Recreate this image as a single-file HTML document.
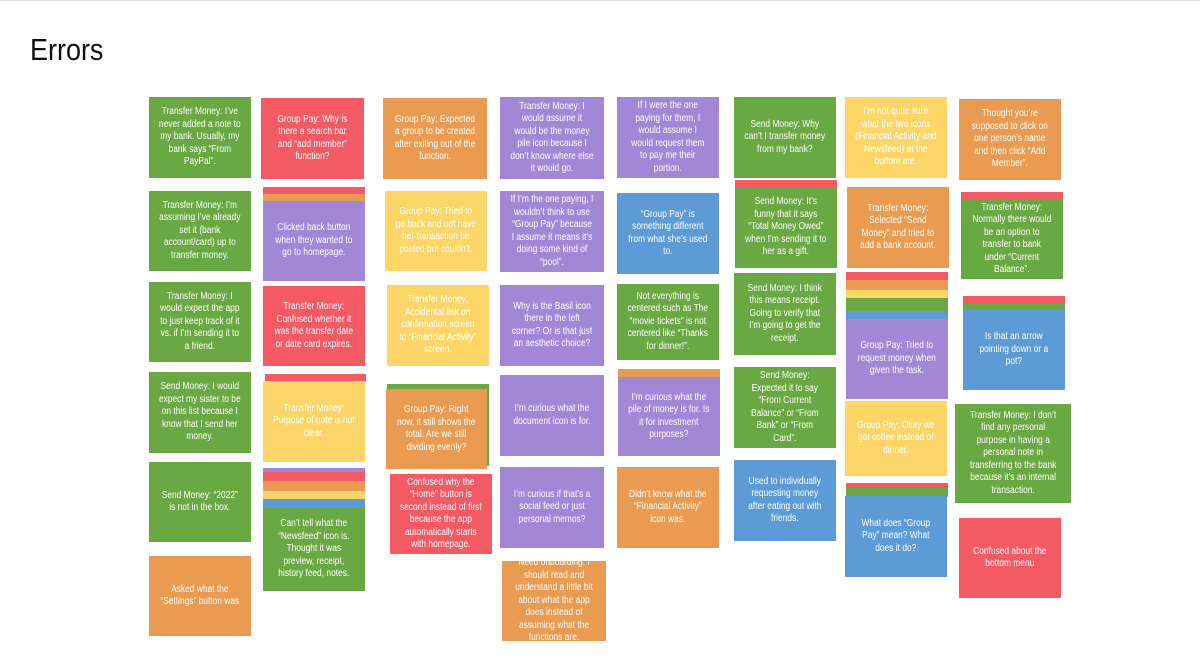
<!DOCTYPE html>
<html><head><meta charset="utf-8">
<style>
html,body{margin:0;padding:0;background:#fff;}
#page{position:relative;width:1200px;height:668px;overflow:hidden;background:#fff;border-top:1px solid #ddd;box-sizing:border-box;}
#title{position:absolute;left:30px;top:31px;font-family:"Liberation Sans",sans-serif;font-size:31px;color:#111;transform:scaleX(0.87);transform-origin:left top;}
.n{position:absolute;display:flex;align-items:center;justify-content:center;text-align:center;color:#fff;font-family:"Liberation Sans",sans-serif;box-sizing:border-box;overflow:hidden;}
.n span{display:block;font-size:10px;line-height:12.5px;transform:scaleX(0.84);flex:none;}
.s{position:absolute;}
</style></head><body>
<div id="page">
<div id="title">Errors</div>
</div>
<script>
const G='#6aa843',R='#f45a63',O='#e89b51',Y='#fcd668',P='#a287d6',B='#5c9bd6';
const strips=[
[263,186,102,8,R],[263,193,102,7,O],
[265,373,101,8,R],
[263,467,102,5,P],[263,471,102,9,R],[263,480,102,10,O],[263,490,102,8,Y],[263,498,102,9,B],
[387,383,102,82,G],
[618,368,102,8,O],
[735,179,102,7,R],
[846,271,102,8,R],[846,279,102,10,O],[846,289,102,8,Y],[846,297,102,13,G],[846,310,102,8,B],
[846,482,102,5,R],[846,487,102,9,G],
[961,191,102,8,R],
[963,295,102,7,R],[963,302,102,7,G]
];
const notes=[
[149,96,102,81,G,'Transfer Money: I\u2019ve never added a note to my bank. Usually, my bank says \u201cFrom PayPal\u201d.'],
[149,190,102,80,G,'Transfer Money: I\u2019m assuming I\u2019ve already set it (bank account/card) up to transfer money.'],
[149,281,102,80,G,'Transfer Money: I would expect the app to just keep track of it vs. if I\u2019m sending it to a friend.'],
[149,371,102,81,G,'Send Money: I would expect my sister to be on this list because I know that I send her money.'],
[149,461,102,80,G,'Send Money: \u201c2022\u201d is not in the box.'],
[149,555,102,80,O,'Asked what the \u201cSettings\u201d button was'],
[261,97,103,81,R,'Group Pay: Why is there a search bar and \u201cadd member\u201d function?'],
[263,200,102,80,P,'Clicked back button when they wanted to go to homepage.'],
[263,285,102,80,R,'Transfer Money: Confused whether it was the transfer date or date card expires.'],
[263,380,102,81,Y,'Transfer Money: Purpose of note is not clear.'],
[263,507,102,83,G,'Can\u2019t tell what the \u201cNewsfeed\u201d icon is. Thought it was preview, receipt, history feed, notes.'],
[383,97,104,81,O,'Group Pay: Expected a group to be created after exiting out of the function.'],
[385,190,102,80,Y,'Group Pay: Tried to go back and not have her transaction be posted but couldn\u2019t.'],
[387,284,102,81,Y,'Transfer Money: Accidental link on confirmation screen to \u201cFinancial Activity\u201d screen.'],
[386,388,101,80,O,'Group Pay: Right now, it still shows the total. Are we still dividing evenly?'],
[390,473,102,80,R,'Confused why the \u201cHome\u201d button is second instead of first because the app automatically starts with homepage.'],
[500,96,104,82,P,'Transfer Money: I would assume it would be the money pile icon because I don\u2019t know where else it would go.'],
[500,190,104,81,P,'If I\u2019m the one paying, I wouldn\u2019t think to use \u201cGroup Pay\u201d because I assume it means it\u2019s doing some kind of \u201cpool\u201d.'],
[500,284,104,81,P,'Why is the Basil icon there in the left corner? Or is that just an aesthetic choice?'],
[500,374,104,81,P,'I\u2019m curious what the document icon is for.'],
[500,466,104,81,P,'I\u2019m curious if that\u2019s a social feed or just personal memos?'],
[502,560,104,80,O,'Need onboarding: I should read and understand a little bit about what the app does instead of assuming what the functions are.'],
[617,96,102,81,P,'If I were the one paying for them, I would assume I would request them to pay me their portion.'],
[617,192,102,81,B,'\u201cGroup Pay\u201d is something different from what she\u2019s used to.'],
[617,283,102,76,G,'Not everything is centered such as The \u201cmovie tickets\u201d is not centered like \u201cThanks for dinner!\u201d.'],
[618,376,102,79,P,'I\u2019m curious what the pile of money is for. Is it for investment purposes?'],
[617,466,102,81,O,'Didn\u2019t know what the \u201cFinancial Activity\u201d icon was.'],
[734,96,102,81,G,'Send Money: Why can\u2019t I transfer money from my bank?'],
[735,186,102,81,G,'Send Money: It\u2019s funny that it says \u201cTotal Money Owed\u201d when I\u2019m sending it to her as a gift.'],
[734,272,102,82,G,'Send Money: I think this means receipt. Going to verify that I\u2019m going to get the receipt.'],
[734,366,102,81,G,'Send Money: Expected it to say \u201cFrom Current Balance\u201d or \u201cFrom Bank\u201d or \u201cFrom Card\u201d.'],
[734,459,102,81,B,'Used to individually requesting money after eating out with friends.'],
[845,96,102,81,Y,'I\u2019m not quite sure what the two icons (Financial Activity and Newsfeed) at the bottom are.'],
[847,186,102,81,O,'Transfer Money: Selected \u201cSend Money\u201d and tried to add a bank account.'],
[846,318,102,80,P,'Group Pay: Tried to request money when given the task.'],
[845,400,102,75,Y,'Group Pay: Okay we got coffee instead of dinner.'],
[845,495,102,81,B,'What does \u201cGroup Pay\u201d mean? What does it do?'],
[959,98,102,81,O,'Thought you\u2019re supposed to click on one person\u2019s name and then click \u201cAdd Member\u201d.'],
[961,198,102,80,G,'Transfer Money: Normally there would be an option to transfer to bank under \u201cCurrent Balance\u201d.'],
[963,309,102,80,B,'Is that an arrow pointing down or a pot?'],
[955,403,116,99,G,'Transfer Money: I don\u2019t find any personal purpose in having a personal note in transferring to the bank because it\u2019s an internal transaction.'],
[959,517,102,80,R,'Confused about the bottom menu']
];
const page=document.getElementById('page');
strips.forEach(s=>{
  const d=document.createElement('div');
  d.className='s';
  
  
  d.style.cssText=`left:${s[0]}px;top:${s[1]}px;width:${s[2]}px;height:${s[3]}px;background:${s[4]}`;
  page.appendChild(d);
});
notes.forEach(n=>{
  const d=document.createElement('div');
  d.className='n';
  
  
  d.style.cssText=`left:${n[0]}px;top:${n[1]}px;width:${n[2]}px;height:${n[3]}px;background:${n[4]}`;
  const sp=document.createElement('span');
  
  
  sp.style.width=((n[2]-20)/0.84)+'px';
  sp.textContent=n[5];
  d.appendChild(sp);
  page.appendChild(d);
});
</script>
</body></html>
